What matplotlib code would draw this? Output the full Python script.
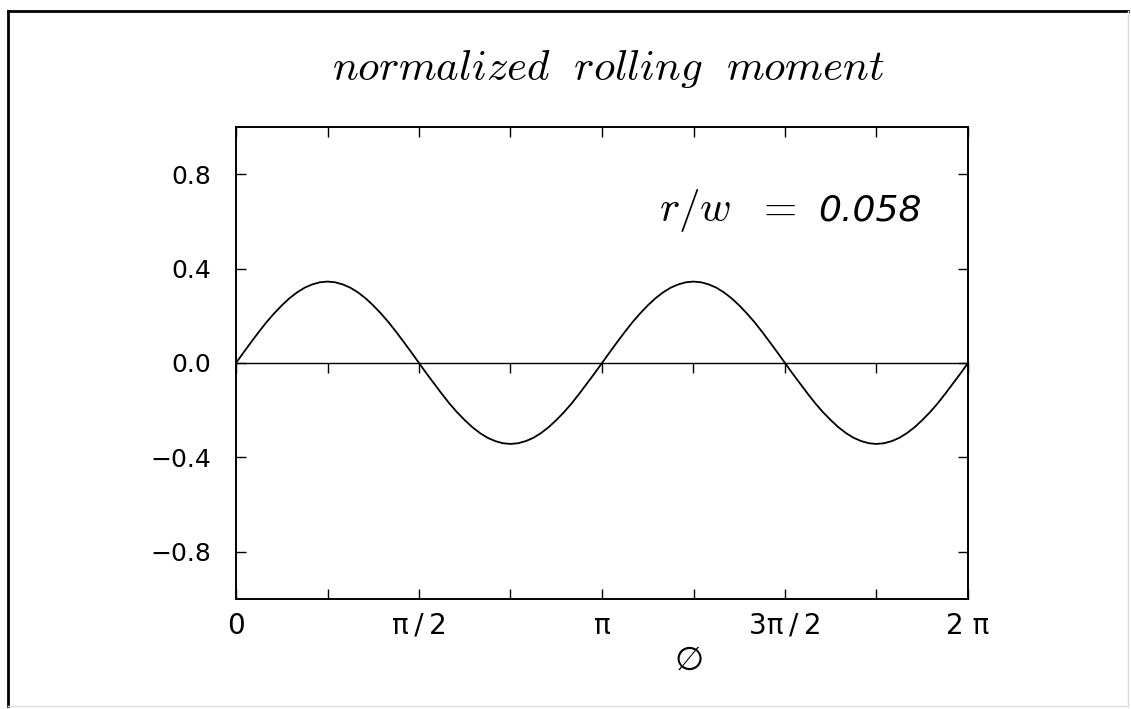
import numpy as np
import matplotlib
matplotlib.use('Agg')
import matplotlib.pyplot as plt
from matplotlib.lines import Line2D

plt.rcParams['mathtext.fontset'] = 'cm'
plt.rcParams['font.family'] = ['DejaVu Sans']

# ---- data ----
phi = np.arange(97) * np.pi / 48          # sampling grid in phi (0 .. 2 pi)
quarter_up = [0.000, 0.045, 0.089, 0.132, 0.173, 0.210, 0.244, 0.274, 0.299, 0.319, 0.333, 0.342]
quarter_dn = [0.345, 0.342, 0.333, 0.319, 0.299, 0.274, 0.244, 0.210, 0.173, 0.132, 0.089, 0.045]
trough_dn = [0.000, -0.045, -0.088, -0.131, -0.172, -0.209, -0.242, -0.272, -0.297, -0.317, -0.331, -0.340]
trough_up = [-0.343, -0.340, -0.331, -0.317, -0.297, -0.272, -0.242, -0.209, -0.172, -0.131, -0.088, -0.045]
moment = (quarter_up + quarter_dn + trough_dn + trough_up) * 2 + [0.000]
xtick_pos = np.arange(9) * np.pi / 4
xtick_labels = ['0', '', 'π\u2009/\u20092', '', 'π', '', '3π\u2009/\u20092', '', '2 π']
ytick_pos = [0.8, 0.4, 0.0, -0.4, -0.8]
ytick_labels = ['0.8', '0.4', '0.0', '\u22120.4', '\u22120.8']
title_text = r'$\mathit{normalized\ \ rolling\ \ moment}$'
param_name = r'$r/w\ \ =$'
param_value = '0.058'
xlabel_text = '\u2205'

W, H = 1131, 709
fig = plt.figure(figsize=(W / 100, H / 100), dpi=100)
fig.patch.set_facecolor('white')

def fx(px):
    return px / W

def fy(py):
    return 1 - py / H

# outer frame
fig.add_artist(Line2D([fx(8), fx(8)], [fy(11), fy(706)], transform=fig.transFigure, color='black', lw=2.0))
fig.add_artist(Line2D([fx(8), fx(1128)], [fy(11), fy(11)], transform=fig.transFigure, color='black', lw=2.0))
fig.add_artist(Line2D([fx(1128), fx(1128)], [fy(11), fy(706)], transform=fig.transFigure, color='#dddddd', lw=1.0))
fig.add_artist(Line2D([fx(8), fx(1128)], [fy(706), fy(706)], transform=fig.transFigure, color='#dddddd', lw=1.0))

ax = fig.add_axes([fx(236), fy(599), fx(968) - fx(236), fy(127) - fy(599)])
ax.plot(phi, moment, color='black', lw=1.3, solid_capstyle='round', solid_joinstyle='round')
ax.set_xlim(0, 2 * np.pi)
ax.set_ylim(-1.0, 1.0)

ax.set_xticks(xtick_pos)
ax.set_xticklabels(xtick_labels, fontsize=20)
ax.set_yticks(ytick_pos)
ax.set_yticklabels(ytick_labels, fontsize=18)
ax.tick_params(axis='both', which='major', direction='in', length=7, width=1.0,
               top=True, right=True, color='black')
ax.tick_params(axis='x', pad=9)
ax.tick_params(axis='y', pad=18)
for s in ax.spines.values():
    s.set_linewidth(1.4)
    s.set_color('black')

# zero axis with ticks pointing down
sec = ax.secondary_xaxis(0.4999)
sec.set_xticks(xtick_pos)
sec.tick_params(direction='out', length=7, width=1.0, labelbottom=False, labeltop=False)
sec.spines['bottom'].set_linewidth(1.0)

# texts
fig.text(fx(608), fy(80), title_text, fontsize=31, ha='center', va='baseline')
fig.text(fx(659), fy(221), param_name, fontsize=31, ha='left', va='baseline')
fig.text(fx(818), fy(221), param_value, fontsize=26, style='italic', ha='left', va='baseline')
fig.text(fx(689), fy(660), xlabel_text, fontsize=24, style='italic', ha='center', va='center')

fig.savefig('out.png', dpi=100)
